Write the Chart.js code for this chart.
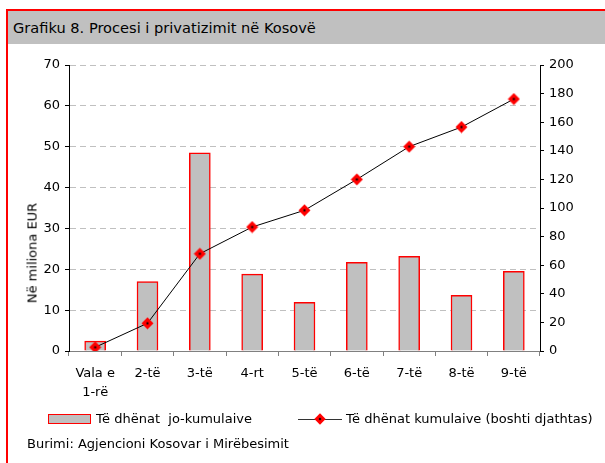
<!DOCTYPE html>
<html>
<head>
<meta charset="utf-8">
<script src="https://cdn.jsdelivr.net/npm/chart.js@4/dist/chart.umd.min.js"></script>
<style>
    body { margin: 0; width: 605px; height: 463px; overflow: hidden; background: #fff; position: relative;
           font-family: 'DejaVu Sans', sans-serif; color: #000; }
    #frame { position: absolute; left: 6px; top: 9px; width: 620px; height: 480px; border: 2px solid #ff0000; }
    #title { position: absolute; left: 8px; top: 11px; width: 597px; height: 33px; background: #c0c0c0;
             font-size: 14.6px; line-height: 33px; padding-left: 5px; box-sizing: border-box; }
    #chart { position: absolute; left: 0; top: 0; }
    .txt { position: absolute; font-size: 13px; line-height: 16px; white-space: pre; }
    #ytitle { position: absolute; left: 32px; top: 253px; font-size: 13px; white-space: nowrap;
              transform: translate(-50%, -50%) rotate(-90deg); }
    #legBar { position: absolute; left: 48px; top: 414px; width: 43px; height: 10px; background: #c0c0c0;
              border: 1.5px solid #ff0000; box-sizing: border-box; }
    #legLine { position: absolute; left: 298px; top: 419px; width: 44px; height: 1px; background: #333; }
    #legDot { position: absolute; left: 316px; top: 415px; width: 8px; height: 8px; background: #ff0000;
              transform: rotate(45deg); }
    #legDot::after { content: ''; position: absolute; left: 3px; top: 3px; width: 2px; height: 2px; background: #000; }
</style>
</head>
<body>
<div id="frame"></div>
<div id="title">Grafiku 8. Procesi i privatizimit në Kosovë</div>
<canvas id="chart" width="605" height="463"></canvas>
<div id="ytitle">Në miliona EUR</div>
<div id="legBar"></div>
<div class="txt" style="left:96px; top:411px;">Të dhënat  jo-kumulaive</div>
<div id="legLine"></div>
<div id="legDot"></div>
<div class="txt" style="left:346px; top:411px;">Të dhënat kumulaive (boshti djathtas)</div>
<div class="txt" style="left:27px; top:436px;">Burimi: Agjencioni Kosovar i Mirëbesimit</div>

<script>
const categories = [['Vala e', '1-rë'], '2-të', '3-të', '4-rt', '5-të', '6-të', '7-të', '8-të', '9-të'];
const nonCumulative = [2.4, 17.0, 48.5, 18.8, 11.9, 21.7, 23.2, 13.6, 19.5];
const cumulative = [2.6, 19.4, 68.0, 86.7, 98.4, 120.0, 142.9, 156.6, 176.2];

const tickFont = { family: "'DejaVu Sans', sans-serif", size: 13 };

// red diamond marker with a small black centre
function makeMarker() {
    const c = document.createElement('canvas');
    c.width = 13;
    c.height = 13;
    const g = c.getContext('2d');
    g.fillStyle = '#ff0000';
    g.beginPath();
    g.moveTo(6.5, 0.5);
    g.lineTo(12.5, 6.5);
    g.lineTo(6.5, 12.5);
    g.lineTo(0.5, 6.5);
    g.closePath();
    g.fill();
    g.fillStyle = '#000';
    g.fillRect(5.5, 5.5, 2, 2);
    return c;
}
const marker = makeMarker();

const ctx = document.getElementById('chart').getContext('2d');
const chart = new Chart(ctx, {
    type: 'bar',
    data: {
        labels: categories,
        datasets: [{
            type: 'line',
            label: 'Të dhënat kumulaive (boshti djathtas)',
            data: cumulative,
            yAxisID: 'y1',
            borderColor: '#000',
            borderWidth: 1,
            tension: 0,
            pointStyle: marker,
            pointRadius: 6,
            order: 0
        }, {
            label: 'Të dhënat  jo-kumulaive',
            data: nonCumulative,
            yAxisID: 'y',
            backgroundColor: '#c0c0c0',
            borderColor: '#ff0000',
            borderWidth: 1.5,
            barThickness: 21,
            order: 1
        }]
    },
    options: {
        responsive: false,
        animation: false,
        devicePixelRatio: 1,
        layout: { padding: { left: 29, right: 20, top: 65, bottom: 57 } },
        plugins: {
            legend: { display: false },
            tooltip: { enabled: false }
        },
        scales: {
            x: {
                offset: true,
                grid: { offset: true, drawOnChartArea: false, drawTicks: true, tickLength: 5, tickColor: '#808080' },
                border: { color: '#808080', width: 1 },
                ticks: { font: { ...tickFont, lineHeight: 1.45 }, color: '#000', padding: 8, maxRotation: 0, autoSkip: false },
                afterFit: scale => { scale.height = 55; }
            },
            y: {
                position: 'left',
                min: 0,
                max: 70,
                ticks: { stepSize: 10, font: tickFont, color: '#000', padding: 5 },
                grid: { color: '#c0c0c0', tickColor: '#000', tickLength: 4, tickBorderDash: [] },
                border: { color: '#000', width: 1, dash: [6, 4] },
                afterFit: scale => { scale.width = 40; }
            },
            y1: {
                position: 'right',
                min: 0,
                max: 200,
                ticks: { stepSize: 20, font: tickFont, color: '#000', padding: 5 },
                grid: { drawOnChartArea: false, tickColor: '#000', tickLength: 4 },
                border: { color: '#000', width: 1 },
                afterFit: scale => { scale.width = 45; }
            }
        }
    }
});
</script>
</body>
</html>
